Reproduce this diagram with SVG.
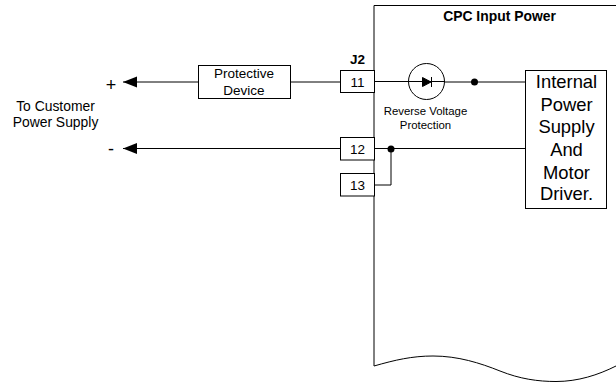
<svg xmlns="http://www.w3.org/2000/svg" width="616" height="383" viewBox="0 0 616 383">
<style>
text{font-family:"Liberation Sans",Arial,sans-serif;fill:#000;text-anchor:middle}
.s{fill:#fff;stroke:#000;stroke-width:1}
.l{fill:none;stroke:#000;stroke-width:1}
.t13{font-size:13.500px}.t14{font-size:13.900px}.t11{font-size:11.400px}.sign{font-size:18px}
.b14{font-size:13.900px;font-weight:bold}.b13{font-size:13.500px;font-weight:bold}
.big{font-size:18.400px}
</style>
<defs>
<marker id="arrow" markerUnits="userSpaceOnUse" markerWidth="15" markerHeight="12" refX="14" refY="5.500" orient="auto" overflow="visible"><path d="M14 5.500L0 0V11Z" fill="#000"/></marker>
</defs>
<g id="frame"><path class="l" d="M374 366V5.500H616M374 366C395 360 412 356 433 356C458 356 480 363 500 371C520 379 538 381.500 556 381.500C578 381.500 598 375 616 366"/></g>
<g id="connectors">
<path class="l" d="M198 82H123" marker-end="url(#arrow)"/>
<path class="l" d="M290 82H341"/>
<path class="l" d="M341 148.500H123" marker-end="url(#arrow)"/>
<path class="l" d="M374 81.500H409M445 82H525"/>
<path class="l" d="M374 148.500H525"/>
<path class="l" d="M374 185H391V149"/>
<circle cx="474.500" cy="82" r="3.500" fill="#000"/>
<circle cx="391" cy="149" r="3.500" fill="#000"/>
</g>
<g id="protective-device"><rect class="s" x="198.500" y="65.500" width="92" height="33"/><text class="t13" x="244" y="78">Protective</text><text class="t13" x="244" y="95">Device</text></g>
<g id="pin-11"><rect class="s" x="340.500" y="70.500" width="34" height="22"/><text class="t13" x="357.500" y="87">11</text></g>
<g id="pin-12"><rect class="s" x="340.500" y="137.500" width="34" height="22.500"/><text class="t13" x="357.500" y="154">12</text></g>
<g id="pin-13"><rect class="s" x="340.500" y="173.500" width="34" height="22.500"/><text class="t13" x="357.500" y="190">13</text></g>
<g id="diode"><circle class="s" cx="426.500" cy="81.500" r="18"/><path d="M408 81.500H445" class="l"/><path d="M422.500 77.500V86.500L431 82Z" fill="#000" stroke="#000"/><path d="M431.500 77V87" class="l"/></g>
<g id="internal-power"><rect class="s" x="525.500" y="70.500" width="81" height="138"/>
<text class="big" x="566.500" y="88">Internal</text><text class="big" x="566.500" y="111">Power</text><text class="big" x="566.500" y="133">Supply</text><text class="big" x="566.500" y="155.500">And</text><text class="big" x="566.500" y="179">Motor</text><text class="big" x="566.500" y="200">Driver.</text></g>
<g id="labels">
<text class="b14" x="499.500" y="20.500">CPC Input Power</text>
<text class="b13" x="357.500" y="64">J2</text>
<text class="t11" x="425.500" y="115">Reverse Voltage</text><text class="t11" x="425.500" y="129">Protection</text>
<text class="sign" x="111" y="90.500">+</text>
<text class="sign" x="111" y="155">-</text>
<text class="t14" x="55.500" y="111">To Customer</text><text class="t14" x="55.500" y="127">Power Supply</text>
</g>
</svg>
